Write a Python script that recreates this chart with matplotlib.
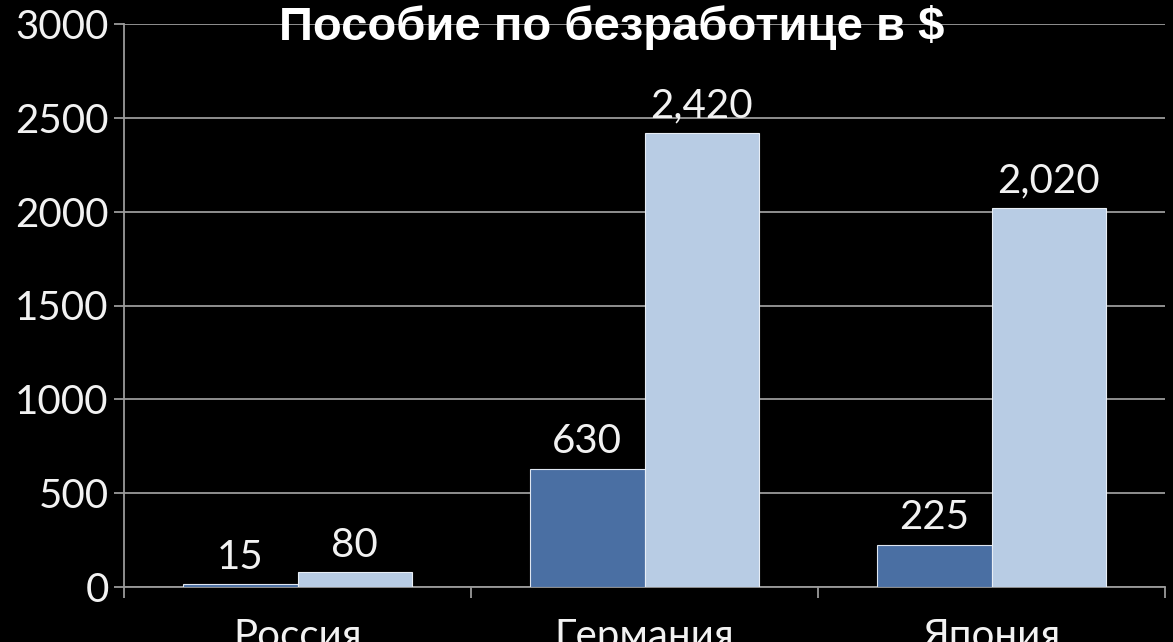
import numpy as np
import matplotlib
matplotlib.use("Agg")
import matplotlib.pyplot as plt

# data
countries = ["Россия", "Германия", "Япония"]
benefit_low = [15, 630, 225]
benefit_high = [80, 2420, 2020]
high_labels = ["80", "2,420", "2,020"]
low_labels = ["15", "630", "225"]
y_ticks = [0, 500, 1000, 1500, 2000, 2500, 3000]
title = "Пособие по безработице в $"

dark_blue = "#4a6fa3"
light_blue = "#b8cce4"
text_col = "#f2f2f2"
grid_col = "#9a9a9a"

fig = plt.figure(figsize=(11.73, 6.42), dpi=100, facecolor="black")
ax = fig.add_axes([124 / 1173, 55 / 642, (1165 - 124) / 1173, 563 / 642])
ax.set_facecolor("black")

x = np.arange(len(countries))
w = 0.33
b1 = ax.bar(x - w / 2, benefit_low, w, color=dark_blue, edgecolor="#dfe6f0",
            linewidth=0.8, zorder=3)
b2 = ax.bar(x + w / 2, benefit_high, w, color=light_blue, edgecolor="#e8eef6",
            linewidth=0.8, zorder=3)

for rect, lab in zip(b1, low_labels):
    ax.annotate(lab, (rect.get_x() + rect.get_width() / 2, rect.get_height()),
                xytext=(0, 6), textcoords="offset points", ha="center", va="bottom",
                color=text_col, fontsize=29, family="Lato")
for rect, lab in zip(b2, high_labels):
    ax.annotate(lab, (rect.get_x() + rect.get_width() / 2, rect.get_height()),
                xytext=(0, 6), textcoords="offset points", ha="center", va="bottom",
                color=text_col, fontsize=29, family="Lato")

ax.set_xlim(-0.5, 2.5)
ax.set_ylim(0, 3000)
ax.set_yticks(y_ticks)
ax.set_yticklabels([str(v) for v in y_ticks], family="Lato", fontsize=29, color=text_col)
ax.yaxis.grid(True, color=grid_col, linewidth=1.3, zorder=0)
ax.tick_params(axis="y", length=7, color=grid_col, pad=4, width=1.3)

ax.set_xticks(x)
ax.set_xticklabels(countries, family="Lato", fontsize=29, color=text_col)
ax.set_xticks([-0.5, 0.5, 1.5, 2.5], minor=True)
ax.tick_params(axis="x", which="major", length=0, pad=22)
ax.tick_params(axis="x", which="minor", length=8, color=grid_col, width=1.3)

for side in ["top", "right"]:
    ax.spines[side].set_visible(False)
ax.spines["left"].set_color(grid_col)
ax.spines["bottom"].set_color(grid_col)
ax.spines["left"].set_linewidth(1.3)
ax.spines["bottom"].set_linewidth(1.3)

fig.text(612 / 1173, 1 - 27 / 642, title, ha="center", va="center",
         color="white", fontsize=34, fontweight="bold", family="Liberation Sans")

fig.savefig("out.png", dpi=100, facecolor="black")
